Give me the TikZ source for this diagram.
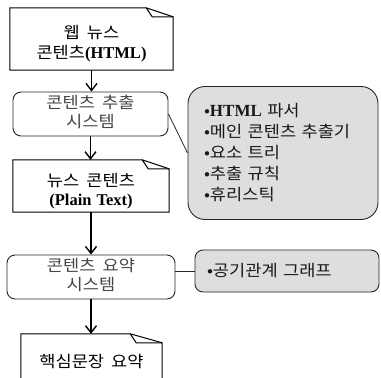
\documentclass[tikz,border=0pt]{standalone}
\usepackage{fontspec}
\setmainfont{Noto Sans CJK KR}[WordSpace=1.8, FakeStretch=1.1]
\newfontfamily\tms{Liberation Serif}[WordSpace=1.2]
\usetikzlibrary{arrows.meta,calc}
\definecolor{notefill}{RGB}{222,222,222}
\definecolor{systext}{RGB}{70,70,70}
\tikzset{
  docbox/.style={draw=none, inner sep=0pt, minimum width=#1},
  doctext/.style={font=\fontsize{16}{19.5}\selectfont, align=center, text=black},
  sysbox/.style={draw=black!85, line width=0.9pt, rounded corners=8pt, fill=white,
    inner sep=0pt, font=\fontsize{16}{19.5}\selectfont, text=systext, align=center},
  notebox/.style={draw=black!85, line width=0.9pt, fill=notefill, align=left,
    font=\fontsize{16}{21}\selectfont, text=black!90},
  docline/.style={draw=black, line width=1pt, line join=miter},
  arr/.style={line width=1.4pt, -{Straight Barb[length=7pt,width=11pt,line width=1.4pt]}},
  link/.style={line width=0.8pt, draw=black!85}
}
\newcommand\mydoc[1]{%
  \draw[docline] (#1.south west) -- (#1.north west) -- ([xshift=-27pt]#1.north east)
    -- ([yshift=-9pt]#1.north east) -- (#1.south east) -- cycle;
  \draw[docline] ([xshift=-27pt]#1.north east) -- ([xshift=-21pt,yshift=-9pt]#1.north east)
    -- ([yshift=-9pt]#1.north east);}
\begin{document}
\begin{tikzpicture}[x=1pt,y=-1pt]
\useasboundingbox (0,0) rectangle (381,378);
% documents
\node[docbox=163pt, minimum height=62pt,
  label={[doctext, yshift=-4.5pt]center:{웹 뉴스\\콘텐츠{\tms\bfseries\fontsize{16.5}{19.5}\selectfont(HTML)}}}]
  (doc1) at (91.5,39) {};
\mydoc{doc1}
\node[sysbox, minimum width=155pt, minimum height=44pt] (sys1) at (90.5,114)
  {\raisebox{-2pt}{\begin{tabular}{@{}c@{}}콘텐츠 추출\\[-0.5pt]시스템\end{tabular}}};
\node[docbox=156pt, minimum height=52pt,
  label={[doctext, yshift=-5pt]center:{뉴스 콘텐츠\\{\tms\bfseries\fontsize{16.5}{19.5}\selectfont(Plain Text)}}}]
  (doc2) at (91,186) {};
\mydoc{doc2}
\node[sysbox, minimum width=168pt, minimum height=44pt] (sys2) at (91,277)
  {\raisebox{-2pt}{\begin{tabular}{@{}c@{}}콘텐츠 요약\\[-0.5pt]시스템\end{tabular}}};
\node[docbox=141pt, minimum height=56pt,
  label={[doctext]center:{핵심문장 요약}}]
  (doc3) at (91.5,362) {};
\draw[docline] (doc3.south west) -- (doc3.north west) -- ([xshift=-32pt]doc3.north east)
    -- ([yshift=-9pt]doc3.north east) -- (doc3.south east);
\draw[docline] ([xshift=-32pt]doc3.north east) -- ([xshift=-26pt,yshift=-9pt]doc3.north east)
    -- ([yshift=-9pt]doc3.north east);
% notes
\node[notebox, rounded corners=17pt, minimum width=190pt, minimum height=133pt,
  text width=158pt, inner xsep=16pt, inner ysep=0pt] (note1) at (283,153)
  {•{\tms\bfseries\fontsize{17}{21}\selectfont HTML} 파서\\•메인 콘텐츠 추출기\\•요소 트리\\•추출 규칙\\•휴리스틱};
\node[notebox, rounded corners=8pt, minimum width=184pt, minimum height=42pt,
  text width=160pt, inner xsep=12pt, inner ysep=0pt] (note2) at (287,271)
  {•공기관계 그래프};
% connectors
\draw[arr] (doc1.south) -- (doc1.south |- sys1.north);
\draw[arr] (sys1.south) -- (sys1.south |- doc2.north);
\draw[arr] (doc2.south) -- (doc2.south |- sys2.north);
\draw[arr] (sys2.south) -- (sys2.south |- doc3.north);
\draw[link] (sys1.east) -- (note1.west);
\draw[link] (note2.west) -- (note2.west -| sys2.east);
\end{tikzpicture}
\end{document}
